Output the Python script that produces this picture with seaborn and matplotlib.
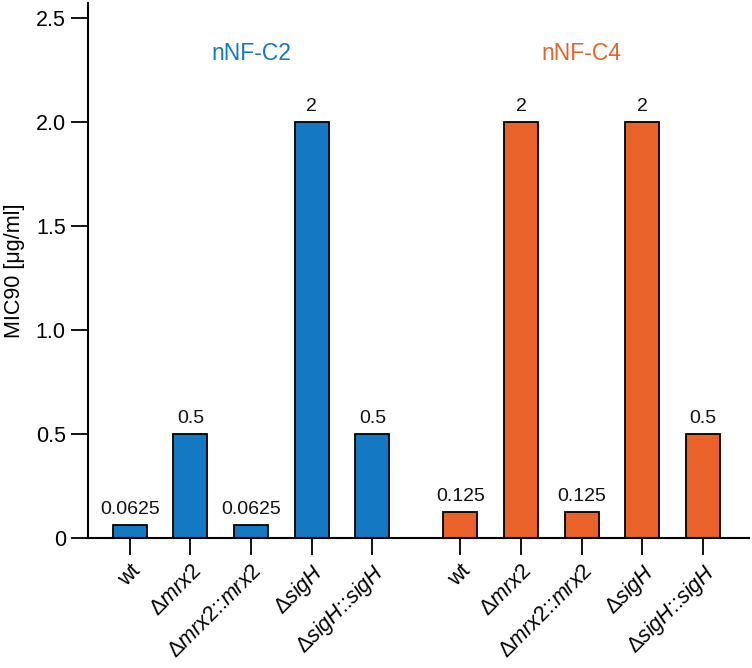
import pandas as pd
import seaborn as sns
import matplotlib
matplotlib.use("Agg")
import matplotlib.pyplot as plt

groups = ["nNF-C2", "nNF-C4"]
strains = ["wt", "Δmrx2", "Δmrx2::mrx2", "ΔsigH", "ΔsigH::sigH"]
strain_labels = ["wt",
                 r"Δ$\mathit{mrx2}$",
                 r"Δ$\mathit{mrx2}$::$\mathit{mrx2}$",
                 r"Δ$\mathit{sigH}$",
                 r"Δ$\mathit{sigH}$::$\mathit{sigH}$"]
mic_c2 = [0.0625, 0.5, 0.0625, 2, 0.5]
mic_c4 = [0.125, 2, 0.125, 2, 0.5]
value_text_c2 = ["0.0625", "0.5", "0.0625", "2", "0.5"]
value_text_c4 = ["0.125", "2", "0.125", "2", "0.5"]
colors = ["#1578c2", "#e8622a"]

sns.set_style("ticks")
plt.rcParams["font.family"] = ["Liberation Sans", "DejaVu Sans"]
plt.rcParams["mathtext.fontset"] = "custom"
plt.rcParams["mathtext.rm"] = "Liberation Sans"
plt.rcParams["mathtext.it"] = "Liberation Sans:italic"
for key in ["text.color", "axes.labelcolor", "xtick.color", "ytick.color"]:
    plt.rcParams[key] = "black"

gap = 1.45
rows = []
for gi, (g, vals, txts) in enumerate(zip(groups, [mic_c2, mic_c4], [value_text_c2, value_text_c4])):
    for si, (s, v, t) in enumerate(zip(strains, vals, txts)):
        rows.append({"group": g, "strain": s, "mic": v, "txt": t,
                     "pos": si + gi * (len(strains) - 1 + gap), "label": strain_labels[si]})
df = pd.DataFrame(rows)

fig = plt.figure(figsize=(7.52, 6.68), dpi=100)
ax = fig.add_axes([0.117, 0.1946, 0.879, 0.801])
sns.barplot(data=df, x="pos", y="mic", hue="group", palette=colors, native_scale=True,
            dodge=False, width=0.56, edgecolor="black", linewidth=1.3, legend=False,
            errorbar=None, saturation=1, ax=ax)

for _, r in df.iterrows():
    ax.annotate(r["txt"], (r["pos"], r["mic"]), xytext=(0, 5), textcoords="offset points",
                ha="center", va="bottom", fontsize=14, color="#111111")

for gi, g in enumerate(groups):
    center = df[df["group"] == g]["pos"].mean()
    ax.text(center, 2.33, g, color=colors[gi], ha="center", va="center", fontsize=16.5)

ax.set_xlim(-0.69, 10.21)
ax.set_ylim(0, 2.572)
ax.set_xticks(df["pos"])
ax.set_xticklabels(df["label"], rotation=45, ha="right", rotation_mode="anchor", fontsize=15.5)
ax.set_yticks([0, 0.5, 1.0, 1.5, 2.0, 2.5])
ax.set_yticklabels(["0", "0.5", "1.0", "1.5", "2.0", "2.5"], fontsize=15.5)
ax.tick_params(axis="both", length=12, width=1.3, colors="black", pad=4)
ax.set_xlabel("")
ax.set_ylabel("MIC90 [μg/ml]", fontsize=15.5, labelpad=8)
sns.despine(ax=ax)
for sp in ["left", "bottom"]:
    ax.spines[sp].set_linewidth(1.5)
    ax.spines[sp].set_color("black")

fig.savefig("out.png", dpi=100)
